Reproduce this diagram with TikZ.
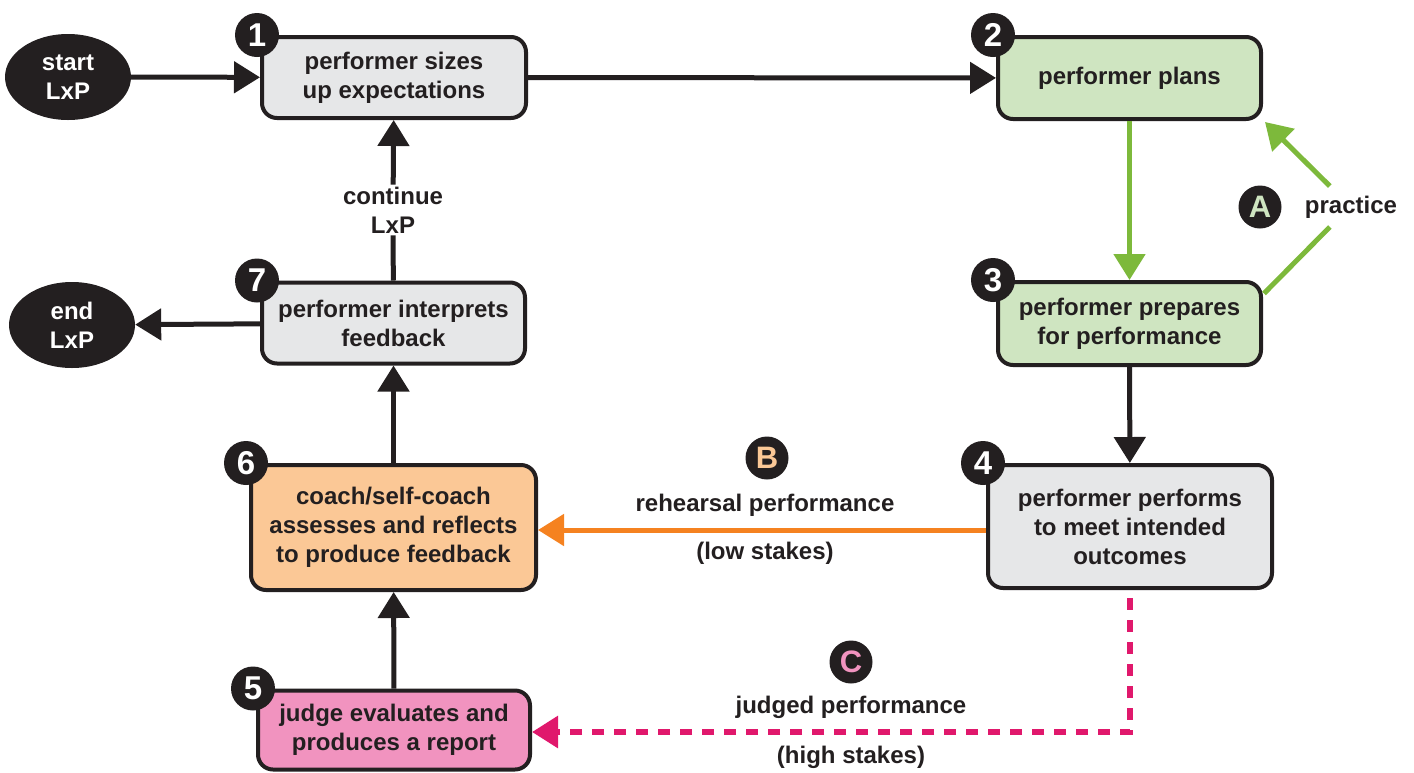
\documentclass[tikz,border=0pt]{standalone}
\usepackage{fontspec}
\setmainfont{Liberation Sans}
\usetikzlibrary{arrows.meta,shapes.geometric,calc}
\definecolor{ink}{HTML}{231F20}
\definecolor{greyfill}{HTML}{E6E7E8}
\definecolor{greenfill}{HTML}{CFE5C1}
\definecolor{orangefill}{HTML}{FBC896}
\definecolor{pinkfill}{HTML}{F193BF}
\definecolor{greenline}{HTML}{7DB93B}
\definecolor{orangeline}{HTML}{F58220}
\definecolor{pinkline}{HTML}{E0186C}
\tikzset{
  stepbox/.style={draw=ink, line width=4pt, rounded corners=15pt, align=center,
    text=ink, inner sep=0pt, font=\bfseries\fontsize{24}{29}\selectfont},
  terminal/.style={ellipse, fill=ink, text=white, align=center, inner sep=0pt,
    minimum width=126pt, minimum height=86pt, font=\bfseries\fontsize{24}{29}\selectfont},
  badge/.style={circle, fill=ink, text=white, inner sep=0pt, minimum size=44pt,
    font=\bfseries\fontsize{33}{33}\selectfont},
  letterbadge/.style={circle, fill=ink, inner sep=0pt, minimum size=43pt,
    font=\bfseries\fontsize{31}{31}\selectfont},
  lbl/.style={text=ink, align=center, inner sep=2pt, font=\bfseries\fontsize{24}{29}\selectfont},
  tip/.style={-{Triangle[length=26pt,width=31pt]}},
  blackarrow/.style={draw=ink, line width=5pt, tip},
  greenarrow/.style={draw=greenline, line width=5pt, tip},
  greenline/.style={draw=greenline, line width=5pt},
  orangearrow/.style={draw=orangeline, line width=5pt, tip},
  pinkarrow/.style={draw=pinkline, line width=6pt, dash pattern=on 12pt off 10pt, tip},
}
\begin{document}
\begin{tikzpicture}[x=1pt,y=-1pt]
\useasboundingbox[fill=white] (0,0) rectangle (1414,772);

% terminals
\node[terminal] (start) at (68,77) {start\\LxP};
\node[terminal] (end) at (72,325) {end\\LxP};

% process steps
\node[stepbox, fill=greyfill, minimum width=264pt, minimum height=81pt] (b1) at (394,77.5) {performer sizes\\up expectations};
\node[stepbox, fill=greenfill, minimum width=263pt, minimum height=82pt] (b2) at (1129.5,78) {performer plans};
\node[stepbox, fill=greenfill, minimum width=263pt, minimum height=83pt] (b3) at (1129.5,323.5) {performer prepares\\for performance};
\node[stepbox, fill=greyfill, minimum width=284pt, minimum height=123pt] (b4) at (1130,526.5) {performer performs\\to meet intended\\outcomes};
\node[stepbox, fill=pinkfill, minimum width=272pt, minimum height=79pt] (b5) at (394,730) {judge evaluates and\\produces a report};
\node[stepbox, fill=orangefill, minimum width=285pt, minimum height=125pt] (b6) at (393.5,527.5) {coach/self-coach\\assesses and reflects\\to produce feedback};
\node[stepbox, fill=greyfill, minimum width=263pt, minimum height=81pt] (b7) at (393.5,323) {performer interprets\\feedback};

% step numbers
\foreach \b/\n in {b1/1,b2/2,b3/3,b4/4,b5/5,b6/6,b7/7}
  \node[badge] (n\n) at ($(\b.north west)+(-3,0)$) {\n};

% connector labels
\node[lbl] (cont) at (393,210) {continue\\LxP};
\node[lbl] (prac) at (1351,207) {practice};
\node[letterbadge, text=greenfill] (la) at (1260,207) {A};
\node[letterbadge, text=orangefill] (lb) at (767,458) {B};
\node[lbl] (rehearse) at (765,505) {rehearsal performance};
\node[lbl] (low) at (765,553) {(low stakes)};
\node[letterbadge, text=pinkfill] (lc) at (851,662) {C};
\node[lbl] (judged) at (851,707) {judged performance};
\node[lbl] (high) at (851,757) {(high stakes)};

% main flow
\draw[blackarrow] (start) -- (b1);
\draw[blackarrow] (b1) -- (b2);
\draw[greenarrow] (b2) -- (b3);
\draw[blackarrow] (b3) -- (b4);
\draw[orangearrow] (b4.west |- 0,530) -- (b6.east |- 0,530);
\draw[pinkarrow] ([yshift=-8pt]b4.south) -- (b4.south |- 0,732) -- (b5.east |- 0,732);
\draw[blackarrow] (b5) -- (b6);
\draw[blackarrow] (b6) -- (b7);
\draw[draw=ink, line width=5pt] (b7) -- (cont);
\draw[blackarrow] (cont) -- (b1);
\draw[blackarrow] (b7) -- (end);

% practice loop
\coordinate (pa) at ($(prac.west)+(27,20)$);
\coordinate (pb) at ($(prac.west)+(27,-21)$);
\draw[greenline] ($(b3.east)+(1,-30)$) -- (pa);
\draw[greenarrow] (pb) -- ($(b2.south east)+(2,1)$);
\end{tikzpicture}
\end{document}
